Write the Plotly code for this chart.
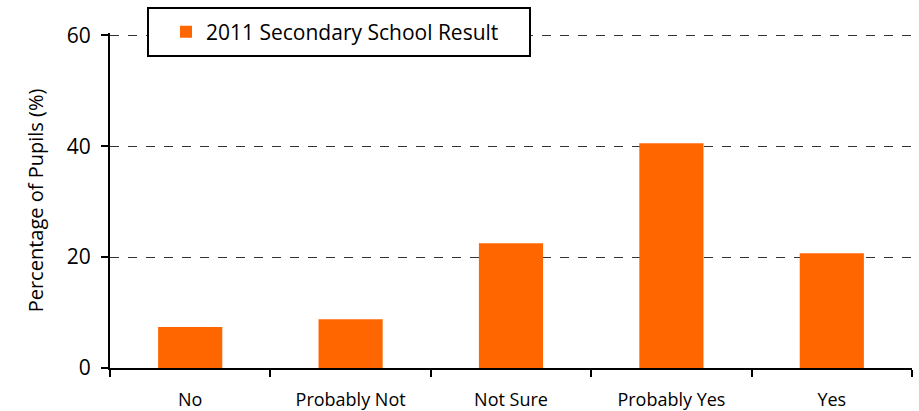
import plotly.graph_objects as go

categories = ["No", "Probably Not", "Not Sure", "Probably Yes", "Yes"]
values = [7.4, 8.8, 22.5, 40.5, 20.7]
series_name = "2011 Secondary School Result"
y_ticks = [0, 20, 40, 60]

FONT = "Open Sans"

# layout geometry (pixels)
W, H = 919, 411
ML, MR, MT, MB = 110, 7, 33, 43
PW, PH = W - ML - MR, H - MT - MB


def px_x(x):
    return (x - ML) / PW


def px_y(y):
    return (H - MB - y) / PH


fig = go.Figure()
fig.add_trace(go.Bar(
    x=categories, y=values, name=series_name,
    marker=dict(color="#FF6600", line=dict(width=0)),
    width=0.4, showlegend=True,
))

fig.update_layout(
    width=W, height=H,
    margin=dict(l=ML, r=MR, t=MT, b=MB, autoexpand=False),
    paper_bgcolor="white", plot_bgcolor="white",
    font=dict(family=FONT, color="black"),
    showlegend=True,
    legend=dict(
        x=px_x(166), y=px_y(32), xanchor="left", yanchor="middle",
        bgcolor="rgba(0,0,0,0)", borderwidth=0,
        font=dict(family=FONT, size=21, color="black"),
        itemwidth=30,
    ),
    shapes=[dict(
        type="rect", xref="paper", yref="paper",
        x0=px_x(148), x1=px_x(530), y0=px_y(56), y1=px_y(8),
        line=dict(color="black", width=2), fillcolor="white", layer="above",
    )],
    bargap=0.6,
)

fig.update_xaxes(
    type="category",
    showline=True, linecolor="black", linewidth=2,
    ticks="outside", tickson="boundaries", ticklen=7, tickwidth=2, tickcolor="black",
    tickfont=dict(family=FONT, size=18, color="black"),
    ticklabelstandoff=14,
    showgrid=False, zeroline=False,
)

fig.update_yaxes(
    range=[0, 60.4], tickvals=y_ticks,
    showline=True, linecolor="black", linewidth=2,
    ticks="outside", ticklen=7, tickwidth=2, tickcolor="black",
    tickfont=dict(family=FONT, size=21, color="black"),
    ticklabelstandoff=6,
    showgrid=True, gridcolor="#333333", gridwidth=1, griddash="dash",
    zeroline=False,
    title=dict(text="Percentage of Pupils (%)", font=dict(family=FONT, size=20, color="black"), standoff=18),
)

fig.write_html("out.html", config={"displayModeBar": False},
               post_script="document.body.style.margin='0px';")
